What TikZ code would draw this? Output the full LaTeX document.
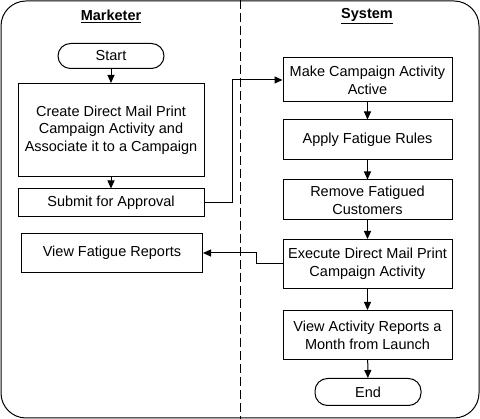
\documentclass[tikz,border=0pt]{standalone}
\usepackage{fontspec}
\setmainfont{Liberation Sans}
\usetikzlibrary{arrows.meta}
\begin{document}
\begin{tikzpicture}[x=1pt, y=-1pt, line width=1pt,
  every node/.style={font=\fontsize{14.5}{17.7}\selectfont},
  box/.style={draw, align=center, inner sep=0pt},
  term/.style={draw, rounded corners=12.5pt, minimum width=106pt, inner sep=0pt},
  flow/.style={-{Triangle[length=8pt, width=7pt]}}]
  \useasboundingbox (0,0) rectangle (480,419);
  \draw[rounded corners=25pt] (1,1) rectangle (479,418);
  \draw[dash pattern=on 9pt off 4pt] (240,0) -- (240,419);
  \node (mkt) at (111,16) {\underline{\textbf{Marketer}}};
  \node (sys) at (367,16) {\underline{\textbf{System}}};
  \node[term, minimum height=25pt] (start) at (111,56) {Start};
  \node[box, minimum width=186pt, minimum height=93pt] (create) at (111,130) {Create Direct Mail Print\\Campaign Activity and\\Associate it to a Campaign};
  \node[box, minimum width=186pt, minimum height=28pt] (submit) at (111,203) {Submit for Approval};
  \node[box, minimum width=181pt, minimum height=39pt] (fatigue) at (112,253) {View Fatigue Reports};
  \node[box, minimum width=169pt, minimum height=44pt] (make) at (367.5,80) {Make Campaign Activity\\Active};
  \node[box, minimum width=169pt, minimum height=40pt] (apply) at (367.5,140) {Apply Fatigue Rules};
  \node[box, minimum width=169pt, minimum height=40pt] (remove) at (367.5,200) {Remove Fatigued\\Customers};
  \node[box, minimum width=169pt, minimum height=49pt] (exec) at (367.5,264) {Execute Direct Mail Print\\Campaign Activity};
  \node[box, minimum width=169pt, minimum height=49pt] (report) at (367.5,335) {View Activity Reports a\\Month from Launch};
  \node[term, minimum height=27pt] (end) at (368,392) {End};
  \draw[flow] (start) -- (create);
  \draw[flow] (create) -- (submit);
  \draw[flow] (submit.east) -- ++(28,0) |- (make.west);
  \draw[flow] (make) -- (apply);
  \draw[flow] (apply) -- (remove);
  \draw[flow] (remove) -- (exec);
  \draw[flow] (exec.west) -- ++(-26,0) |- (fatigue.east);
  \draw[flow] (exec) -- (report);
  \draw[flow] (report) -- (end);
\end{tikzpicture}
\end{document}
